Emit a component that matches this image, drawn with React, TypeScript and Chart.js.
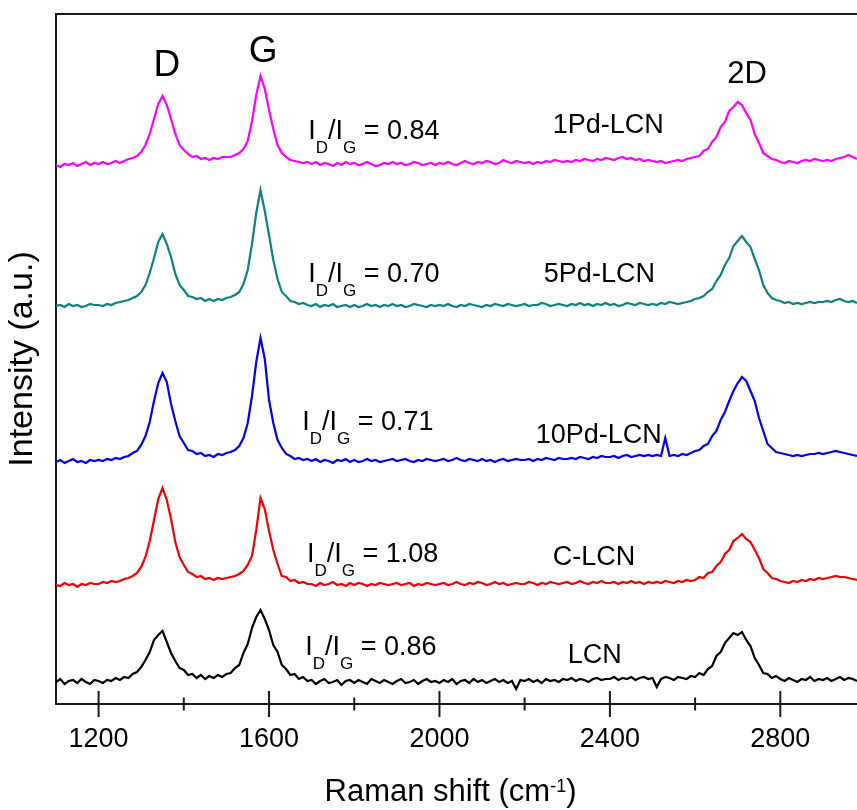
import React, { useEffect, useRef } from 'react';
import { Chart, registerables } from 'chart.js';

Chart.register(...registerables);

// Raman shift sampling grid (cm-1)
const ramanShift: number[] = [
  1100, 1110, 1120, 1130, 1140, 1150, 1160, 1170, 1180, 1190,
  1200, 1210, 1220, 1230, 1240, 1250, 1260, 1270, 1280, 1290,
  1300, 1310, 1320, 1330, 1340, 1350, 1360, 1370, 1380, 1390,
  1400, 1410, 1420, 1430, 1440, 1450, 1460, 1470, 1480, 1490,
  1500, 1510, 1520, 1530, 1540, 1550, 1560, 1570, 1580, 1590,
  1600, 1610, 1620, 1630, 1640, 1650, 1660, 1670, 1680, 1690,
  1700, 1710, 1720, 1730, 1740, 1750, 1760, 1770, 1780, 1790,
  1800, 1810, 1820, 1830, 1840, 1850, 1860, 1870, 1880, 1890,
  1900, 1910, 1920, 1930, 1940, 1950, 1960, 1970, 1980, 1990,
  2000, 2010, 2020, 2030, 2040, 2050, 2060, 2070, 2080, 2090,
  2100, 2110, 2120, 2130, 2140, 2150, 2160, 2170, 2180, 2190,
  2200, 2210, 2220, 2230, 2240, 2250, 2260, 2270, 2280, 2290,
  2300, 2310, 2320, 2330, 2340, 2350, 2360, 2370, 2380, 2390,
  2400, 2410, 2420, 2430, 2440, 2450, 2460, 2470, 2480, 2490,
  2500, 2510, 2520, 2530, 2540, 2550, 2560, 2570, 2580, 2590,
  2600, 2610, 2620, 2630, 2640, 2650, 2660, 2670, 2680, 2690,
  2700, 2710, 2720, 2730, 2740, 2750, 2760, 2770, 2780, 2790,
  2800, 2810, 2820, 2830, 2840, 2850, 2860, 2870, 2880, 2890,
  2900, 2910, 2920, 2930, 2940, 2950, 2960, 2970, 2980,
];

// Intensities (a.u.) above each trace's own baseline
const pd1LCN: number[] = [
  0, -2, 1, 0, 2, -1, 1, 3, 0, 2,
  1, 3, 1, 2, 4, 2, 4, 6, 7, 9,
  13, 20, 31, 46, 61, 69, 60, 46, 31, 20,
  15, 11, 8, 9, 6, 7, 5, 7, 6, 8,
  8, 8, 10, 12, 16, 24, 44, 70, 89, 76,
  55, 36, 20, 12, 8, 5, 4, 3, 2, 3,
  1, 3, 0, 2, 1, -1, 2, 0, 3, 1,
  2, 0, 1, 3, 1, -1, 0, 2, 1, 3,
  1, 2, 0, 1, 3, 2, 0, 1, 2, 0,
  2, 1, 3, 1, 0, 2, 4, 2, 1, 3,
  2, 4, 3, 1, 2, 5, 3, 2, 4, 3,
  2, 3, 1, 3, 2, 4, 3, 5, 4, 3,
  4, 3, 5, 4, 6, 5, 4, 6, 5, 7,
  6, 5, 7, 8, 6, 7, 5, 6, 4, 5,
  4, 3, 4, 2, 3, 4, 5, 4, 6, 7,
  8, 9, 14, 16, 23, 28, 38, 43, 54, 58,
  63, 60, 52, 45, 31, 22, 12, 9, 6, 5,
  3, 2, 4, 3, 2, 4, 5, 4, 6, 5,
  4, 5, 4, 6, 7, 8, 10, 8, 6,
];

const pd5LCN: number[] = [
  0, 1, -1, 2, 0, 1, -1, 0, 2, 1,
  1, 0, 2, 1, 3, 4, 5, 6, 8, 10,
  14, 21, 33, 48, 64, 72, 62, 49, 32, 21,
  16, 10, 9, 7, 8, 5, 7, 5, 7, 6,
  8, 9, 11, 14, 22, 36, 62, 93, 116, 95,
  71, 46, 27, 14, 10, 5, 4, 2, 3, 1,
  0, 2, -1, 1, 0, 2, -1, 0, 1, -1,
  1, -1, 0, 2, 0, 1, -1, 1, 0, 2,
  0, 1, -1, 0, 2, 1, 0, -1, 1, 0,
  1, 0, 2, 0, -1, 1, 0, 2, 1, 0,
  -1, 1, 0, 2, 1, 0, 2, 1, 0, 1,
  2, 0, 1, 1, 3, 2, 0, 1, 2, 1,
  0, 2, 1, 3, 1, 2, 0, 2, 1, 3,
  1, 2, 0, 1, 3, 2, 1, 3, 2, 1,
  2, 1, 3, 2, 4, 3, 2, 3, 4, 5,
  7, 8, 10, 14, 17, 25, 31, 41, 48, 60,
  65, 70, 64, 59, 47, 36, 21, 13, 8, 6,
  5, 3, 4, 2, 3, 2, 3, 4, 3, 4,
  4, 5, 4, 6, 7, 5, 4, 5, 3,
];

const pd10LCN: number[] = [
  0, 2, -1, 1, 3, 0, 1, -1, 2, 1,
  2, 1, 3, 2, 4, 3, 5, 6, 9, 11,
  17, 26, 40, 61, 79, 89, 80, 58, 41, 26,
  19, 12, 11, 8, 9, 6, 7, 5, 8, 7,
  9, 10, 12, 16, 24, 39, 66, 100, 124, 103,
  62, 39, 22, 14, 8, 6, 3, 4, 2, 3,
  1, 3, 0, 2, 1, -1, 2, 1, 3, 0,
  2, 0, 1, 3, 1, 2, 0, 1, 2, 3,
  1, 2, 3, 1, 0, 2, 1, 3, 2, 1,
  2, 3, 1, 2, 4, 2, 1, 3, 2, 1,
  3, 1, 2, 0, 2, 3, 1, 2, 3, 2,
  2, 3, 1, 3, 2, 4, 3, 2, 4, 3,
  3, 4, 3, 5, 4, 3, 5, 4, 6, 5,
  5, 6, 4, 6, 7, 5, 6, 7, 6, 7,
  6, 7, 6, 24, 6, 7, 6, 8, 7, 9,
  11, 12, 16, 18, 26, 31, 42, 50, 61, 71,
  79, 85, 81, 71, 61, 44, 31, 18, 14, 10,
  9, 8, 7, 6, 7, 6, 7, 8, 8, 9,
  8, 9, 10, 11, 10, 9, 8, 7, 6,
];

const cLCN: number[] = [
  0, -1, 2, 0, 1, -2, 1, 0, 2, 1,
  1, 3, 2, 4, 3, 4, 6, 7, 9, 12,
  18, 28, 44, 65, 86, 97, 85, 66, 43, 28,
  20, 13, 11, 8, 9, 6, 7, 5, 7, 6,
  7, 8, 9, 11, 14, 20, 29, 55, 87, 76,
  54, 35, 21, 9, 8, 4, 5, 2, 3, 1,
  1, -1, 2, 0, 1, 3, 0, 1, -1, 2,
  0, 2, 1, -1, 1, 0, 2, 1, 0, 1,
  2, 0, 1, 2, -1, 1, 0, 2, 1, 0,
  1, 2, 0, 1, 3, 1, 0, 2, 1, 3,
  2, 0, 1, 3, 1, 2, 0, 1, 2, 1,
  1, 3, 2, 0, 2, 1, 3, 2, 1, 2,
  3, 1, 2, 4, 2, 1, 3, 2, 4, 2,
  2, 3, 1, 3, 2, 4, 2, 3, 1, 3,
  2, 3, 2, 4, 3, 2, 4, 3, 5, 4,
  5, 8, 7, 12, 13, 19, 23, 31, 35, 44,
  47, 51, 46, 43, 35, 27, 16, 12, 7, 6,
  4, 3, 2, 4, 3, 5, 4, 6, 5, 7,
  6, 7, 8, 9, 8, 8, 7, 6, 5,
];

const LCN: number[] = [
  0, 3, -2, 1, 2, -1, 3, 0, -2, 2,
  1, -1, 2, 1, 4, 2, 5, 4, 8, 10,
  15, 22, 30, 42, 47, 51, 40, 29, 21, 14,
  12, 7, 8, 4, 7, 3, 6, 4, 7, 5,
  8, 9, 14, 17, 29, 38, 54, 65, 72, 63,
  52, 37, 30, 17, 13, 7, 8, 3, 5, 1,
  2, -2, 1, 3, -1, 0, 2, -3, 1, 2,
  -1, 2, 0, -2, 3, 1, -1, 2, 0, -2,
  1, 3, -1, 0, 2, -2, 1, 3, 0, 1,
  -1, 2, 0, 3, -2, 1, 2, -1, 3, 0,
  2, -1, 1, 3, 0, 2, -1, 1, -7, 2,
  1, 3, 0, 2, -1, 3, 1, 2, 0, 3,
  2, 4, 1, 3, 2, 0, 3, 4, 2, 3,
  3, 5, 2, 4, 3, 5, 2, 4, 5, 3,
  4, -5, 3, 5, 4, 2, 5, 4, 3, 6,
  5, 9, 7, 13, 16, 26, 30, 39, 44, 49,
  47, 50, 42, 36, 24, 17, 9, 8, 4, 6,
  3, 1, 4, 2, 0, 3, 2, 5, 1, 3,
  2, 4, 1, 3, 5, 2, 4, 3, 1,
];

const sampleNames: string[] = ['1Pd-LCN', '5Pd-LCN', '10Pd-LCN', 'C-LCN', 'LCN'];
const sampleSpectra: number[][] = [pd1LCN, pd5LCN, pd10LCN, cLCN, LCN];
const stackOffsets: number[] = [539, 398, 242, 119, 22];
const idIgRatios: string[] = ['0.84', '0.70', '0.71', '1.08', '0.86'];
const traceColors: string[] = ['#ff00ff', '#0f8080', '#0000f0', '#f00000', '#000000'];

const xTicks: number[] = [1200, 1600, 2000, 2400, 2800];

// label anchors in data coordinates (Raman shift, intensity)
const nameAnchors: [number, number][] = [[2266, 571], [2245, 422], [2226, 261], [2266, 139], [2301, 41]];
const ratioAnchors: [number, number][] = [[1692, 565], [1692, 422], [1678, 274], [1689, 142], [1685, 49]];
const bandLabels: { text: string; x: number; y: number; size: number }[] = [
  { text: 'D', x: 1360, y: 628, size: 37 },
  { text: 'G', x: 1586, y: 642, size: 37 },
  { text: '2D', x: 2722, y: 621, size: 31 },
];

const FONT = '"Liberation Sans", Arial, sans-serif';

const overlayPlugin = {
  id: 'overlay',
  afterDraw(chart: any) {
    const { ctx, chartArea: a } = chart;
    const xs = chart.scales.x;
    const ys = chart.scales.y;
    ctx.save();
    ctx.strokeStyle = '#1a1a1a';
    ctx.lineWidth = 2;
    ctx.beginPath();
    ctx.moveTo(a.left - 1, a.top);
    ctx.lineTo(a.right, a.top);
    ctx.stroke();
    for (const t of xs.ticks) {
      const px = xs.getPixelForValue(t.value);
      const major = xTicks.includes(t.value);
      const h = major ? 13 : 6.5;
      ctx.beginPath();
      ctx.moveTo(px, a.bottom - h);
      ctx.lineTo(px, a.bottom + h);
      ctx.stroke();
    }
    ctx.fillStyle = '#000';
    ctx.textBaseline = 'alphabetic';
    // band labels
    ctx.textAlign = 'center';
    for (const b of bandLabels) {
      ctx.font = `${b.size}px ${FONT}`;
      ctx.fillText(b.text, xs.getPixelForValue(b.x), ys.getPixelForValue(b.y));
    }
    // sample names
    ctx.textAlign = 'left';
    ctx.font = `27px ${FONT}`;
    sampleNames.forEach((n, i) => {
      ctx.fillText(n, xs.getPixelForValue(nameAnchors[i][0]), ys.getPixelForValue(nameAnchors[i][1]));
    });
    // ID/IG ratios
    idIgRatios.forEach((r, i) => {
      let px = xs.getPixelForValue(ratioAnchors[i][0]);
      const py = ys.getPixelForValue(ratioAnchors[i][1]);
      const parts: [string, boolean][] = [['I', false], ['D', true], ['/I', false], ['G', true], [' = ' + r, false]];
      for (const [s, sub] of parts) {
        ctx.font = sub ? `17px ${FONT}` : `27px ${FONT}`;
        ctx.fillText(s, px, sub ? py + 14 : py);
        px += ctx.measureText(s).width;
      }
    });
    // x axis title with superscript
    const main1 = 'Raman shift (cm';
    const sup = '-1';
    const main2 = ')';
    ctx.font = `31px ${FONT}`;
    const w1 = ctx.measureText(main1).width;
    const w3 = ctx.measureText(main2).width;
    ctx.font = `18px ${FONT}`;
    const w2 = ctx.measureText(sup).width;
    const total = w1 + w2 + w3;
    let sx = (a.left + a.right) / 2 - 6 - total / 2;
    const by = a.bottom + 97;
    ctx.font = `31px ${FONT}`;
    ctx.fillText(main1, sx, by);
    sx += w1;
    ctx.font = `18px ${FONT}`;
    ctx.fillText(sup, sx, by - 9);
    sx += w2;
    ctx.font = `31px ${FONT}`;
    ctx.fillText(main2, sx, by);
    ctx.restore();
  },
};

export default function App() {
  const canvasRef = useRef<HTMLCanvasElement | null>(null);

  useEffect(() => {
    if (!canvasRef.current) return;
    const datasets = sampleSpectra.map((spec, i) => ({
      label: sampleNames[i],
      data: ramanShift.map((x, j) => ({ x, y: spec[j] + stackOffsets[i] })),
      borderColor: traceColors[i],
      borderWidth: 2.2,
      pointRadius: 0,
      tension: 0,
      fill: false,
    }));
    const chart = new Chart(canvasRef.current, {
      type: 'line',
      data: { datasets },
      options: {
        responsive: false,
        animation: false,
        devicePixelRatio: 1,
        layout: { padding: { top: 14, right: 0, left: 0, bottom: 0 } },
        plugins: { legend: { display: false }, tooltip: { enabled: false } },
        scales: {
          x: {
            type: 'linear',
            min: 1100,
            max: 2980,
            ticks: {
              stepSize: 200,
              includeBounds: false,
              autoSkip: false,
              maxRotation: 0,
              padding: 19,
              color: '#000',
              font: { family: FONT, size: 27 },
              callback: (v: any) => (xTicks.includes(Number(v)) ? String(v) : ''),
            },
            grid: { display: false, drawTicks: false },
            border: { display: true, color: '#1a1a1a', width: 2 },
            afterFit: (s: any) => {
              s.height = 106;
            },
          },
          y: {
            type: 'linear',
            min: 0,
            max: 690,
            ticks: { display: false },
            grid: { display: false, drawTicks: false },
            border: { display: true, color: '#1a1a1a', width: 2 },
            title: {
              display: true,
              text: 'Intensity (a.u.)',
              color: '#000',
              font: { family: FONT, size: 34 },
              padding: { top: 2, bottom: 0 },
            },
            afterFit: (s: any) => {
              s.width = 56;
            },
          },
        },
      },
      plugins: [overlayPlugin],
    });
    return () => chart.destroy();
  }, []);

  return (
    <div style={{ position: 'fixed', left: 0, top: 0, width: 857, height: 810, background: '#fff' }}>
      <canvas ref={canvasRef} width={857} height={810} />
    </div>
  );
}
